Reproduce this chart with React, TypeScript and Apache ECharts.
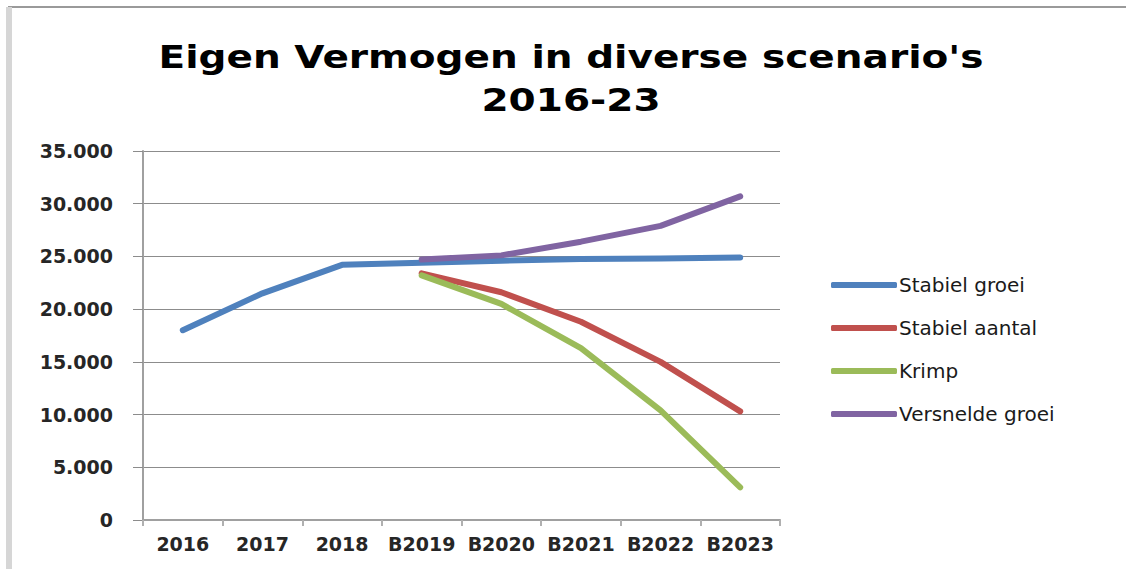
import React, { useEffect, useRef } from "react";
import * as echarts from "echarts";

const categories = ["2016", "2017", "2018", "B2019", "B2020", "B2021", "B2022", "B2023"];
const stabielGroei = [18000, 21500, 24200, 24400, 24600, 24750, 24800, 24900];
const stabielAantal = ["-", "-", "-", 23400, 21600, 18800, 15000, 10300];
const krimp = ["-", "-", "-", 23200, 20500, 16300, 10400, 3100];
const versneldeGroei = ["-", "-", "-", 24700, 25100, 26400, 27900, 30700];

const seriesNames = ["Stabiel groei", "Stabiel aantal", "Krimp", "Versnelde groei"];
const seriesColors = ["#4f81bd", "#c0504d", "#9bbb59", "#8064a2"];
const titleLines = ["Eigen Vermogen in diverse scenario's", "2016-23"];

function fmt(v: number): string {
  if (v === 0) return "0";
  const s = String(Math.round(v));
  return s.replace(/\B(?=(\d{3})+(?!\d))/g, ".");
}

export default function App() {
  const ref = useRef<HTMLDivElement>(null);
  useEffect(() => {
    if (!ref.current) return;
    const chart = echarts.init(ref.current, undefined, { renderer: "svg" });
    const datas = [stabielGroei, stabielAantal, krimp, versneldeGroei];
    chart.setOption({
      animation: false,
      backgroundColor: "#ffffff",
      graphic: [
        { type: "rect", shape: { x: 8, y: 6, width: 1118, height: 2 }, style: { fill: "#9a9a9a" }, silent: true },
        { type: "rect", shape: { x: 6, y: 7, width: 6, height: 562 }, style: { fill: "#d6d6d6" }, silent: true },
        {
          type: "text",
          x: 571,
          y: 57,
          scaleX: 1.22,
          silent: true,
          style: {
            text: titleLines[0],
            align: "center",
            verticalAlign: "middle",
            fontFamily: "DejaVu Sans",
            fontWeight: "bold",
            fontSize: 32,
            fill: "#000000",
          },
        },
        {
          type: "text",
          x: 571,
          y: 100,
          scaleX: 1.22,
          silent: true,
          style: {
            text: titleLines[1],
            align: "center",
            verticalAlign: "middle",
            fontFamily: "DejaVu Sans",
            fontWeight: "bold",
            fontSize: 32,
            fill: "#000000",
          },
        },
      ],
      legend: {
        orient: "vertical",
        left: 831,
        top: 275,
        padding: 0,
        itemWidth: 66,
        itemHeight: 6,
        itemGap: 23,
        icon: "roundRect",
        data: seriesNames,
        textStyle: {
          fontFamily: "DejaVu Sans",
          fontSize: 20,
          lineHeight: 20,
          color: "#1a1a1a",
          padding: [0, 0, 0, -3],
        },
      },
      grid: { left: 143, right: 346, top: 151, bottom: 49, containLabel: false },
      xAxis: {
        type: "category",
        data: categories,
        boundaryGap: true,
        axisLine: { show: true, lineStyle: { color: "#a0a0a0", width: 2 } },
        axisTick: { show: true, length: 6, lineStyle: { color: "#b0b0b0", width: 2 } },
        axisLabel: {
          margin: 14,
          fontFamily: "DejaVu Sans",
          fontWeight: "bold",
          fontSize: 19,
          color: "#262626",
          interval: 0,
        },
        splitLine: { show: false },
      },
      yAxis: {
        type: "value",
        min: 0,
        max: 35000,
        interval: 5000,
        axisLine: { show: true, lineStyle: { color: "#a0a0a0", width: 2 } },
        axisTick: { show: true, length: 10, lineStyle: { color: "#8c8c8c", width: 1 } },
        axisLabel: {
          margin: 30,
          fontFamily: "DejaVu Sans",
          fontWeight: "bold",
          fontSize: 19,
          color: "#262626",
          formatter: (v: number) => fmt(v),
        },
        splitLine: { show: true, lineStyle: { color: "#8c8c8c", width: 1 } },
      },
      series: seriesNames.map((name, i) => ({
        name,
        type: "line",
        data: datas[i],
        showSymbol: false,
        symbol: "none",
        connectNulls: false,
        lineStyle: { color: seriesColors[i], width: 6, cap: "round", join: "round" },
        itemStyle: { color: seriesColors[i] },
      })),
    });
    return () => chart.dispose();
  }, []);
  return (
    <div
      ref={ref}
      style={{ position: "fixed", left: 0, top: 0, width: 1126, height: 569 }}
    />
  );
}
